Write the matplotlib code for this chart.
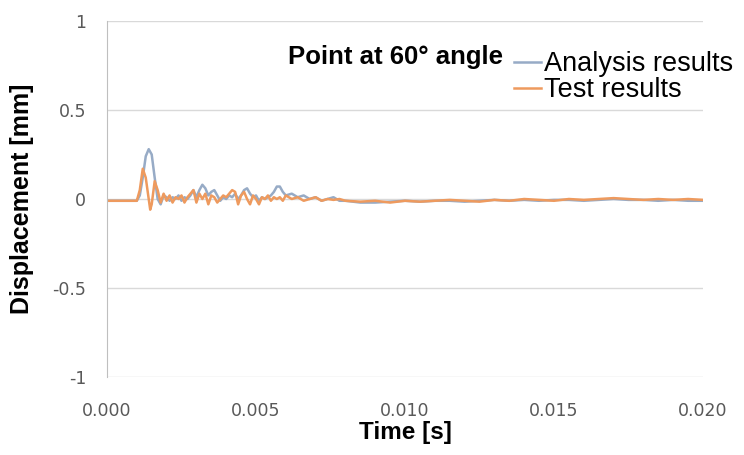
import matplotlib.pyplot as plt
import numpy as np

# time in ms, displacement in mm
t_analysis = [0.0, 0.5, 1.0, 1.1, 1.2, 1.3, 1.4, 1.5, 1.6, 1.7, 1.8, 1.9, 2.0, 2.1, 2.2, 2.3, 2.4,
              2.5, 2.6, 2.7, 2.8, 2.9, 3.0, 3.1, 3.2, 3.3, 3.4, 3.5, 3.6, 3.7, 3.8, 3.9, 4.0,
              4.1, 4.2, 4.3, 4.4, 4.5, 4.6, 4.7, 4.8, 4.9, 5.0, 5.1, 5.2, 5.3, 5.4, 5.5, 5.6,
              5.7, 5.8, 5.9, 6.0, 6.2, 6.4, 6.6, 6.8, 7.0, 7.2, 7.4, 7.6, 7.8, 8.0, 8.5, 9.0,
              9.5, 10.0, 10.5, 11.0, 11.5, 12.0, 12.5, 13.0, 13.5, 14.0, 14.5, 15.0, 15.5,
              16.0, 16.5, 17.0, 17.5, 18.0, 18.5, 19.0, 19.5, 20.0]
y_analysis = [-0.01, -0.01, -0.01, 0.02, 0.12, 0.24, 0.28, 0.25, 0.12, 0.0, -0.03, 0.02, 0.01,
              -0.01, 0.01, 0.0, 0.02, -0.01, 0.01, 0.0, 0.02, 0.05, 0.01, 0.05, 0.08, 0.06,
              0.02, 0.04, 0.05, 0.02, -0.01, 0.01, 0.0, 0.02, 0.01, 0.03, 0.0, 0.02, 0.05,
              0.06, 0.03, 0.01, 0.02, -0.01, 0.01, 0.0, 0.01, 0.02, 0.04, 0.07, 0.07, 0.04,
              0.02, 0.03, 0.01, 0.02, 0.0, 0.01, -0.01, 0.0, 0.01, -0.01, -0.01, -0.02,
              -0.02, -0.015, -0.01, -0.015, -0.01, -0.01, -0.015, -0.01, -0.005, -0.01,
              -0.005, -0.01, -0.005, -0.005, -0.01, -0.005, 0.0, -0.005, -0.005, -0.01,
              -0.005, -0.01, -0.01]

t_test = [0.0, 0.5, 1.0, 1.1, 1.2, 1.3, 1.4, 1.45, 1.5, 1.6, 1.7, 1.8, 1.9, 2.0, 2.1, 2.2,
          2.3, 2.4, 2.5, 2.6, 2.7, 2.8, 2.9, 3.0, 3.1, 3.2, 3.3, 3.4, 3.5, 3.6, 3.7, 3.8,
          3.9, 4.0, 4.1, 4.2, 4.3, 4.4, 4.5, 4.6, 4.7, 4.8, 4.9, 5.0, 5.1, 5.2, 5.3, 5.4,
          5.5, 5.6, 5.7, 5.8, 5.9, 6.0, 6.2, 6.4, 6.6, 6.8, 7.0, 7.2, 7.4, 7.6, 7.8, 8.0,
          8.5, 9.0, 9.5, 10.0, 10.5, 11.0, 11.5, 12.0, 12.5, 13.0, 13.5, 14.0, 14.5, 15.0,
          15.5, 16.0, 16.5, 17.0, 17.5, 18.0, 18.5, 19.0, 19.5, 20.0]
y_test = [-0.01, -0.01, -0.01, 0.05, 0.17, 0.12, 0.0, -0.06, -0.03, 0.1, 0.05, -0.02, 0.03,
          -0.01, 0.02, -0.02, 0.01, 0.0, 0.02, -0.02, 0.01, 0.03, 0.05, -0.02, 0.03, 0.0,
          0.03, -0.03, 0.02, 0.01, -0.02, 0.0, 0.02, 0.01, 0.03, 0.05, 0.04, -0.03, 0.02,
          0.04, 0.0, -0.03, 0.02, 0.0, -0.03, 0.01, 0.0, 0.02, -0.01, 0.01, 0.0, 0.01,
          -0.01, 0.02, 0.0, 0.01, -0.01, 0.0, 0.01, -0.01, 0.0, -0.005, 0.0, -0.01,
          -0.015, -0.01, -0.02, -0.01, -0.015, -0.01, -0.005, -0.01, -0.015, -0.005,
          -0.01, 0.0, -0.005, -0.01, 0.0, -0.005, 0.0, 0.005, 0.0, -0.005, 0.0, -0.005,
          0.0, -0.005]

x_ticks = [0.000, 0.005, 0.010, 0.015, 0.020]
y_ticks = [-1, -0.5, 0, 0.5, 1]
y_tick_labels = ['-1', '-0.5', '0', '0.5', '1']

plt.rcParams['font.family'] = ['Liberation Sans', 'DejaVu Sans']

fig = plt.figure(figsize=(7.44, 4.55), dpi=100)
ax = fig.add_axes([107 / 744, 1 - 377 / 455, 596 / 744, 356 / 455])

ax.plot(np.array(t_analysis) / 1000, y_analysis, color='#97ABC6', lw=1.8, label='Analysis results')
ax.plot(np.array(t_test) / 1000, y_test, color='#EE9A5E', lw=1.8, label='Test results')

ax.set_xlim(0, 0.020)
ax.set_ylim(-1, 1)
ax.set_xticks(x_ticks)
ax.set_xticklabels([f'{v:.3f}' for v in x_ticks])
ax.set_yticks(y_ticks)
ax.set_yticklabels(y_tick_labels)
ax.tick_params(axis='x', length=0, labelsize=12.5, colors='#595959', pad=18)
ax.tick_params(axis='y', length=0, labelsize=12.5, colors='#595959', pad=15)
for lbl in ax.get_xticklabels() + ax.get_yticklabels():
    lbl.set_family('DejaVu Sans')
ax.yaxis.grid(True, color='#D9D9D9', lw=1)
ax.set_axisbelow(True)
for s in ['top', 'right', 'bottom']:
    ax.spines[s].set_visible(False)
ax.spines['left'].set_color('#BFBFBF')

ax.set_xlabel('Time [s]', fontsize=17.5, fontweight='bold')
ax.xaxis.set_label_coords(0.5, (377 - 433) / 356, transform=ax.transAxes)
ax.xaxis.label.set_va('center')
ax.set_ylabel('Displacement [mm]', fontsize=18, fontweight='bold')
ax.yaxis.set_label_coords((22 - 107) / 596, 0.5)
ax.yaxis.label.set_va('center')

fig.text(288 / 744, 1 - 57 / 455, 'Point at 60° angle', fontsize=18.5, fontweight='bold', va='center')
fig.legend(loc='upper left', bbox_to_anchor=(514 / 744, 1 - 51 / 455), frameon=False,
           fontsize=19.5, handlelength=1.0, handletextpad=0.1, labelspacing=0.0,
           borderaxespad=0, borderpad=0)

plt.savefig('out.png', dpi=100)
